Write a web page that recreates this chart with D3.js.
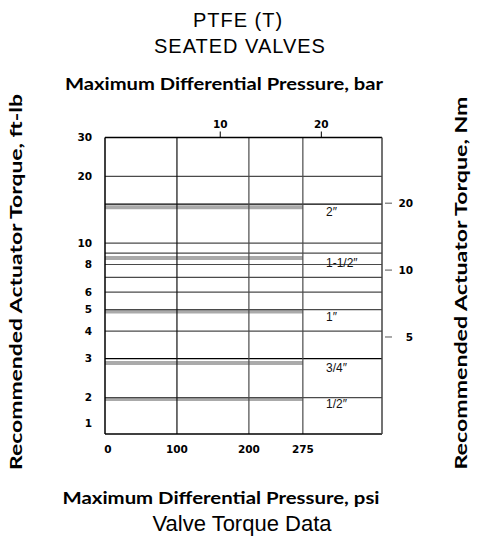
<!DOCTYPE html>
<html>
<head>
<meta charset="utf-8">
<script src="https://cdn.jsdelivr.net/npm/d3@7"></script>
<style>
  body { margin: 0; background: #fff; }
  svg { display: block; }
</style>
</head>
<body>
<div id="chart"></div>
<script>
// values
var psiTicks = [0, 100, 200, 275];
var barTicks = [10, 20];
var torqueTicks = [30, 20, 10, 8, 6, 5, 4, 3, 2];
var nmTicks = [20, 10, 5];
var gridTorque = [20, 10, 9, 8, 7, 6, 5, 4, 2];
var refTorque = [15, 3]; // the two black full-width lines
var valveSizes = ["2\u2033", "1-1/2\u2033", "1\u2033", "3/4\u2033", "1/2\u2033"];
var valveTorque = [14.5, 8.55, 4.9, 2.87, 1.97];
var ratedPsi = 275;

var width = 477, height = 548;
var plotLeft = 105, plotRight = 382, plotTop = 137.5, plotBottom = 434;

var svg = d3.select("#chart").append("svg")
  .attr("width", width)
  .attr("height", height);

var x = d3.scaleLinear().domain([0, 385]).range([plotLeft, plotRight]);
var xBar = d3.scaleLinear().domain([-1.4, 26]).range([plotLeft, plotRight]);
var y = d3.scaleLog().domain([1.37, 30]).range([plotBottom, plotTop]);
var yNm = d3.scaleLog().domain([1.83, 39.5]).range([plotBottom, plotTop]);

var tickFont = "'DejaVu Sans', sans-serif";
var titleFont = "Lato, 'Open Sans', sans-serif";

// valve bands (grey, up to rated pressure)
svg.selectAll(".band")
  .data(valveTorque)
  .enter().append("line")
  .attr("class", "band")
  .attr("x1", x(0))
  .attr("x2", x(ratedPsi))
  .attr("y1", function(d) { return y(d); })
  .attr("y2", function(d) { return y(d); })
  .attr("stroke", "#aaa")
  .attr("stroke-width", 4);

// horizontal grid
svg.selectAll(".hgrid")
  .data(gridTorque)
  .enter().append("line")
  .attr("class", "hgrid")
  .attr("x1", plotLeft).attr("x2", plotRight)
  .attr("y1", function(d) { return y(d); })
  .attr("y2", function(d) { return y(d); })
  .attr("stroke", "#4a4a4a")
  .attr("stroke-width", 1.2);

svg.selectAll(".ref")
  .data(refTorque)
  .enter().append("line")
  .attr("class", "ref")
  .attr("x1", plotLeft).attr("x2", plotRight)
  .attr("y1", function(d) { return y(d); })
  .attr("y2", function(d) { return y(d); })
  .attr("stroke", "#000")
  .attr("stroke-width", 1.2);

// vertical grid
svg.selectAll(".vgrid")
  .data(psiTicks.slice(1))
  .enter().append("line")
  .attr("class", "vgrid")
  .attr("x1", function(d) { return x(d); })
  .attr("x2", function(d) { return x(d); })
  .attr("y1", plotTop).attr("y2", plotBottom)
  .attr("stroke", function(d, i) { return i == 0 ? "#111" : "#4a4a4a"; })
  .attr("stroke-width", 1.2);

// frame
svg.append("line").attr("x1", plotLeft).attr("x2", plotRight).attr("y1", plotTop).attr("y2", plotTop)
  .attr("stroke", "#000").attr("stroke-width", 1.3);
svg.append("line").attr("x1", plotLeft).attr("x2", plotRight).attr("y1", plotBottom).attr("y2", plotBottom)
  .attr("stroke", "#000").attr("stroke-width", 1.5);
svg.append("line").attr("x1", plotLeft).attr("x2", plotLeft).attr("y1", plotTop).attr("y2", plotBottom)
  .attr("stroke", "#000").attr("stroke-width", 1.5);
svg.append("line").attr("x1", plotRight).attr("x2", plotRight).attr("y1", plotTop).attr("y2", plotBottom)
  .attr("stroke", "#444").attr("stroke-width", 1.5);

// bottom psi labels
svg.selectAll(".psi")
  .data(psiTicks)
  .enter().append("text")
  .attr("x", function(d) { return x(d) + (d == 0 ? 3 : 0); })
  .attr("y", 453)
  .attr("text-anchor", "middle")
  .style("font", "bold 10.5px " + tickFont)
  .text(function(d) { return d; });

// top bar ticks
svg.selectAll(".barTick")
  .data(barTicks)
  .enter().append("line")
  .attr("x1", function(d) { return xBar(d); })
  .attr("x2", function(d) { return xBar(d); })
  .attr("y1", plotTop - 6).attr("y2", plotTop)
  .attr("stroke", "#000");
svg.selectAll(".barLabel")
  .data(barTicks)
  .enter().append("text")
  .attr("x", function(d) { return xBar(d); })
  .attr("y", 128)
  .attr("text-anchor", "middle")
  .style("font", "bold 10.5px " + tickFont)
  .text(function(d) { return d; });

// left ft-lb labels
svg.selectAll(".ftlb")
  .data(torqueTicks)
  .enter().append("text")
  .attr("x", 92)
  .attr("y", function(d) { return y(d); })
  .attr("dy", "0.35em")
  .attr("text-anchor", "end")
  .style("font", "bold 10.5px " + tickFont)
  .text(function(d) { return d; });
svg.append("text")
  .attr("x", 92)
  .attr("y", y.range()[0] - 11)
  .attr("dy", "0.35em")
  .attr("text-anchor", "end")
  .style("font", "bold 10.5px " + tickFont)
  .text("1");

// right Nm ticks
svg.selectAll(".nmTick")
  .data(nmTicks)
  .enter().append("line")
  .attr("x1", plotRight + 3).attr("x2", plotRight + 10)
  .attr("y1", function(d) { return yNm(d); })
  .attr("y2", function(d) { return yNm(d); })
  .attr("stroke", "#555");
svg.selectAll(".nmLabel")
  .data(nmTicks)
  .enter().append("text")
  .attr("x", 413)
  .attr("y", function(d) { return yNm(d); })
  .attr("dy", "0.35em")
  .attr("text-anchor", "end")
  .style("font", "bold 10.5px " + tickFont)
  .text(function(d) { return d; });

// valve size labels
svg.selectAll(".valve")
  .data(valveSizes)
  .enter().append("text")
  .attr("x", 326)
  .attr("y", function(d, i) { return y(valveTorque[i]) + 9; })
  .style("font", "12px 'Liberation Sans', sans-serif")
  .attr("fill", "#111")
  .text(function(d) { return d; });

// titles
svg.append("text").attr("x", 238).attr("y", 27).attr("text-anchor", "middle")
  .style("font", "20px 'Liberation Sans', Arial, sans-serif").style("letter-spacing", "1px")
  .text("PTFE (T)");
svg.append("text").attr("x", 240).attr("y", 53).attr("text-anchor", "middle")
  .style("font", "20px 'Liberation Sans', Arial, sans-serif").style("letter-spacing", "1px")
  .text("SEATED VALVES");
svg.append("text").attr("x", 224).attr("y", 90).attr("text-anchor", "middle")
  .style("font", "bold 17px " + titleFont)
  .attr("textLength", 318).attr("lengthAdjust", "spacingAndGlyphs")
  .text("Maximum Differential Pressure, bar");
svg.append("text").attr("x", 221).attr("y", 504).attr("text-anchor", "middle")
  .style("font", "bold 17px " + titleFont)
  .attr("textLength", 317).attr("lengthAdjust", "spacingAndGlyphs")
  .text("Maximum Differential Pressure, psi");
svg.append("text").attr("x", 242).attr("y", 531).attr("text-anchor", "middle")
  .style("font", "22px 'Liberation Sans', Arial, sans-serif")
  .text("Valve Torque Data");

svg.append("text")
  .attr("transform", "translate(22,282) rotate(-90)")
  .attr("text-anchor", "middle")
  .style("font", "bold 17px " + titleFont)
  .attr("textLength", 376).attr("lengthAdjust", "spacingAndGlyphs")
  .text("Recommended Actuator Torque, ft-lb");
svg.append("text")
  .attr("transform", "translate(467,283) rotate(-90)")
  .attr("text-anchor", "middle")
  .style("font", "bold 17px " + titleFont)
  .attr("textLength", 373).attr("lengthAdjust", "spacingAndGlyphs")
  .text("Recommended Actuator Torque, Nm");
</script>
</body>
</html>
